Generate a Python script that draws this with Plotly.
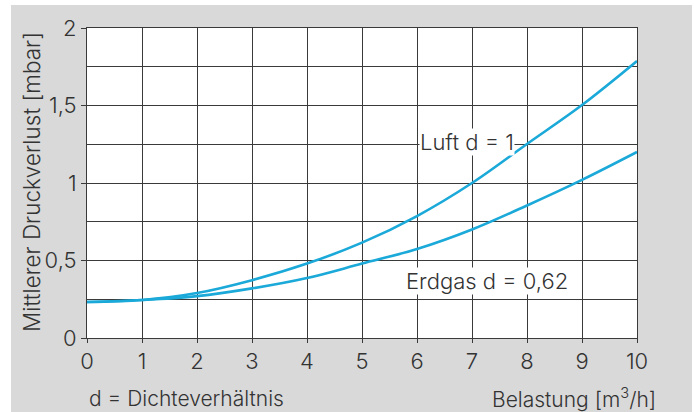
import plotly.graph_objects as go

belastung = [0, 1, 2, 3, 4, 5, 6, 7, 8, 9, 10]
luft = [0.232, 0.245, 0.29, 0.373, 0.48, 0.615, 0.787, 1.0, 1.252, 1.503, 1.787]
erdgas = [0.232, 0.245, 0.27, 0.32, 0.387, 0.48, 0.574, 0.70, 0.855, 1.02, 1.2]

y_tickvals = [0, 0.5, 1, 1.5, 2]
y_ticktext = ["0", "0,5", "1", "1,5", "2"]
x_tickvals = list(range(0, 11))

line_color = "#1aa9d8"
grid_color = "#3a3a3a"
text_color = "#333333"
font_family = "Inter, Lato, sans-serif"
W = 300

fig = go.Figure()
fig.add_trace(go.Scatter(x=belastung, y=luft, mode="lines",
                         line=dict(color=line_color, width=2.6, shape="spline"),
                         showlegend=False, hoverinfo="skip"))
fig.add_trace(go.Scatter(x=belastung, y=erdgas, mode="lines",
                         line=dict(color=line_color, width=2.6, shape="spline"),
                         showlegend=False, hoverinfo="skip"))

fig.update_layout(
    width=694, height=412,
    margin=dict(l=87, r=57, t=28, b=74),
    paper_bgcolor="#d9d9d9",
    plot_bgcolor="white",
    font=dict(family=font_family, size=22, color=text_color, weight=W),
    xaxis=dict(range=[0, 10], tickvals=x_tickvals, ticks="outside", ticklen=4,
               tickcolor=grid_color, showgrid=True, gridcolor=grid_color, gridwidth=1,
               showline=True, linecolor=grid_color, linewidth=1, mirror=True,
               zeroline=False, tickfont=dict(size=22, color=text_color, weight=W)),
    yaxis=dict(range=[0, 2], tickvals=y_tickvals, ticktext=y_ticktext, ticks="outside",
               ticklen=5, tickcolor=grid_color, showgrid=True, gridcolor=grid_color,
               gridwidth=1, showline=True, linecolor=grid_color, linewidth=1, mirror=True,
               zeroline=False, tickfont=dict(size=22, color=text_color, weight=W),
               minor=dict(tickvals=[0.25, 0.75, 1.25, 1.75], showgrid=True,
                          gridcolor=grid_color, gridwidth=1)),
)

# white margins around the gray frame
fig.add_shape(type="rect", xref="paper", yref="paper",
              x0=-87/550, x1=(11-87)/550, y0=-74/310, y1=338/310,
              fillcolor="white", line=dict(width=0), layer="above")
fig.add_shape(type="rect", xref="paper", yref="paper",
              x0=-87/550, x1=607/550, y0=(338-5)/310, y1=338/310,
              fillcolor="white", line=dict(width=0), layer="above")
fig.add_shape(type="rect", xref="paper", yref="paper",
              x0=(692-87)/550, x1=607/550, y0=-74/310, y1=338/310,
              fillcolor="white", line=dict(width=0), layer="above")

fig.add_annotation(xref="paper", yref="paper", x=(31-87)/550, y=(338-182)/310,
                   xanchor="center", yanchor="middle",
                   text="Mittlerer Druckverlust [mbar]", textangle=-90, showarrow=False,
                   font=dict(size=22.5, color=text_color, weight=W))

fig.add_annotation(x=6.9, y=1.265, text="Luft d = 1", showarrow=False,
                   bgcolor="white", borderpad=0, font=dict(size=22, color=text_color, weight=W))
fig.add_annotation(x=7.28, y=0.366, text="Erdgas d = 0,62", showarrow=False,
                   bgcolor="white", borderpad=0, font=dict(size=22, color=text_color, weight=W))

fig.add_annotation(xref="paper", yref="paper", x=0, y=-60/310, xanchor="left", yanchor="middle",
                   text="d = Dichteverhältnis", showarrow=False,
                   font=dict(size=21, color=text_color, weight=W))
fig.add_annotation(xref="paper", yref="paper", x=(658-87)/550, y=-60/310, xanchor="right",
                   yanchor="middle", text="Belastung [m<sup>3</sup>/h]", showarrow=False,
                   font=dict(size=21, color=text_color, weight=W))

fig.write_html("out.html", config={"displayModeBar": False},
               post_script="document.body.style.margin='0';")
